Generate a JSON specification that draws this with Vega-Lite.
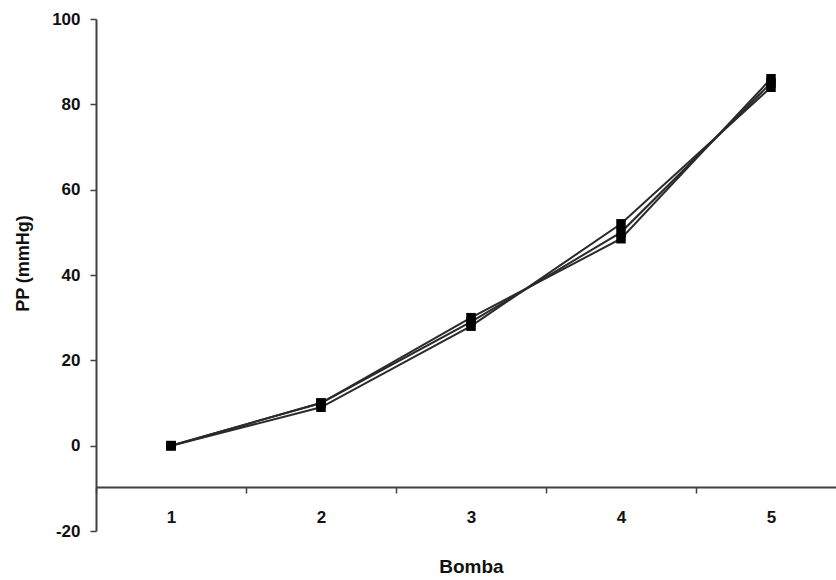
{
  "$schema": "https://vega.github.io/schema/vega-lite/v6.json",
  "autosize": {"type": "none"},
  "padding": {"left": 96, "top": 19, "right": 0, "bottom": 49},
  "width": 750,
  "height": 512,
  "background": "white",
  "config": {
    "view": {"stroke": null},
    "axis": {
      "labelFont": "Liberation Sans",
      "titleFont": "Liberation Sans",
      "labelFontWeight": "bold",
      "titleFontWeight": "bold",
      "labelColor": "#111111",
      "titleColor": "#111111",
      "domainColor": "#404040",
      "tickColor": "#404040",
      "domainWidth": 2,
      "tickWidth": 1.5,
      "grid": false
    }
  },
  "data": {
    "values": [
      {"bomba": "1", "serie": "A", "pp": 0},
      {"bomba": "2", "serie": "A", "pp": 9},
      {"bomba": "3", "serie": "A", "pp": 28},
      {"bomba": "4", "serie": "A", "pp": 52},
      {"bomba": "5", "serie": "A", "pp": 84},
      {"bomba": "1", "serie": "B", "pp": 0},
      {"bomba": "2", "serie": "B", "pp": 10},
      {"bomba": "3", "serie": "B", "pp": 29},
      {"bomba": "4", "serie": "B", "pp": 50},
      {"bomba": "5", "serie": "B", "pp": 85},
      {"bomba": "1", "serie": "C", "pp": 0},
      {"bomba": "2", "serie": "C", "pp": 10},
      {"bomba": "3", "serie": "C", "pp": 30},
      {"bomba": "4", "serie": "C", "pp": 48.5},
      {"bomba": "5", "serie": "C", "pp": 86}
    ]
  },
  "encoding": {
    "x": {
      "field": "bomba",
      "type": "ordinal",
      "scale": {"type": "band", "paddingInner": 0, "paddingOuter": 0},
      "axis": {
        "title": "Bomba",
        "labelAngle": 0,
        "labelFontSize": 17,
        "titleFontSize": 19,
        "offset": -44,
        "tickBand": "extent",
        "tickSize": 6,
        "labelPadding": 16,
        "titlePadding": 32
      }
    },
    "y": {
      "field": "pp",
      "type": "quantitative",
      "scale": {"domain": [-20, 100], "nice": false, "zero": false},
      "axis": {
        "title": "PP (mmHg)",
        "values": [-20, 0, 20, 40, 60, 80, 100],
        "labelExpr": "datum.value < 0 ? '-' + abs(datum.value) : datum.label",
        "labelFontSize": 17,
        "titleFontSize": 18,
        "tickSize": 6,
        "labelPadding": 10,
        "titleX": -73,
        "titleY": 244,
        "titleBaseline": "middle"
      }
    }
  },
  "layer": [
    {
      "mark": {"type": "line", "color": "#2a2a2a", "strokeWidth": 2},
      "encoding": {"detail": {"field": "serie"}}
    },
    {
      "mark": {"type": "point", "shape": "square", "filled": true, "color": "black", "size": 90, "opacity": 1},
      "encoding": {"detail": {"field": "serie"}}
    }
  ]
}
